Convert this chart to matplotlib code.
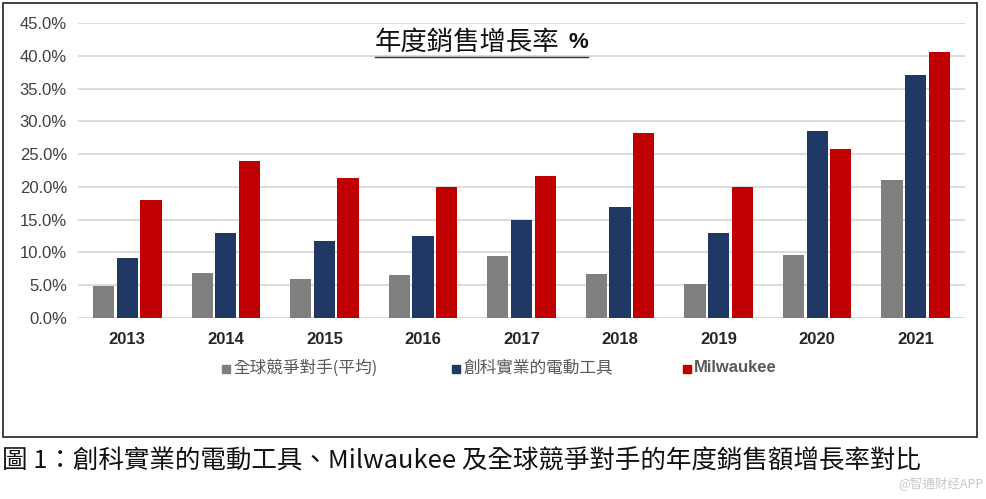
import matplotlib
matplotlib.use('Agg')
import matplotlib.pyplot as plt
import numpy as np
from matplotlib.patches import Rectangle

years = ['2013', '2014', '2015', '2016', '2017', '2018', '2019', '2020', '2021']
rivals = [4.9, 6.8, 5.9, 6.5, 9.4, 6.7, 5.2, 9.6, 21.0]
tti = [9.2, 13.0, 11.7, 12.5, 14.9, 17.0, 13.0, 28.6, 37.0]
milwaukee = [18.0, 24.0, 21.4, 20.0, 21.6, 28.2, 20.0, 25.8, 40.6]
labels = ['全球競爭對手(平均)', '創科實業的電動工具', 'Milwaukee']
colors = ['#7F7F7F', '#1F3864', '#C00000']
yticks = [0, 5, 10, 15, 20, 25, 30, 35, 40, 45]

cjk = ['Noto Sans CJK TC', 'DejaVu Sans']
plt.rcParams['font.family'] = ['Liberation Sans', 'Noto Sans CJK TC', 'DejaVu Sans']

fig = plt.figure(figsize=(9.87, 4.99), dpi=100)
ax = fig.add_axes([78 / 987, 1 - 318 / 499, (965 - 78) / 987, (318 - 23) / 499])

x = np.arange(len(years))
w = 0.215
for i, (vals, lab, c) in enumerate(zip([rivals, tti, milwaukee], labels, colors)):
    ax.bar(x + (i - 1) * 0.24, vals, w, color=c, label=lab, zorder=3)

ax.set_xlim(-0.5, len(years) - 0.5)
ax.set_ylim(0, 45)
ax.set_yticks(yticks)
ax.set_yticklabels([f'{v:.1f}%' for v in yticks], fontsize=12, color='#404040')
ax.set_xticks(x)
ax.set_xticklabels(years, fontsize=12, fontweight='bold', color='#262626')
ax.tick_params(length=0, pad=8)
ax.tick_params(axis='x', pad=10)
ax.grid(axis='y', color='#D9D9D9', linewidth=1.3, zorder=0)
for s in ax.spines.values():
    s.set_visible(False)

# title with underline
fig.text(375 / 987, 1 - 42 / 499, '年度銷售增長率', fontsize=19, family=cjk,
         va='center', ha='left', color='#111111')
fig.text(569 / 987, 1 - 42 / 499, '%', fontsize=16, fontweight='bold',
         va='center', ha='left', color='#111111')
fig.add_artist(plt.Line2D([375 / 987, 588 / 987], [1 - 57 / 499, 1 - 57 / 499],
                          color='#333333', linewidth=1))

# legend
leg_x = [222, 452, 683]
for lx, lab, c in zip(leg_x, labels, colors):
    fig.add_artist(Rectangle((lx / 987, 1 - 373 / 499), 8 / 987, 8 / 499,
                             color=c, transform=fig.transFigure))
    fam = ['Liberation Sans'] if lab == 'Milwaukee' else cjk
    fig.text((lx + 11) / 987, 1 - 368 / 499, lab, fontsize=12, family=fam,
             fontweight='bold' if lab == 'Milwaukee' else 'normal',
             va='center', ha='left', color='#595959')

# outer frame
fig.add_artist(Rectangle((3 / 987, 1 - 437 / 499), 974 / 987, 434 / 499,
                         fill=False, edgecolor='#333333', linewidth=1.3,
                         transform=fig.transFigure))

fig.text(2 / 987, 1 - 461 / 499,
         '圖 1：創科實業的電動工具、Milwaukee 及全球競爭對手的年度銷售額增長率對比',
         fontsize=18.4, family=cjk, va='center', ha='left', color='#111111')
fig.text(984 / 987, 1 - 483 / 499, '@智通财经APP', fontsize=9, family=cjk,
         va='center', ha='right', color='#C8C8C8')

fig.savefig('out.png', dpi=100)
